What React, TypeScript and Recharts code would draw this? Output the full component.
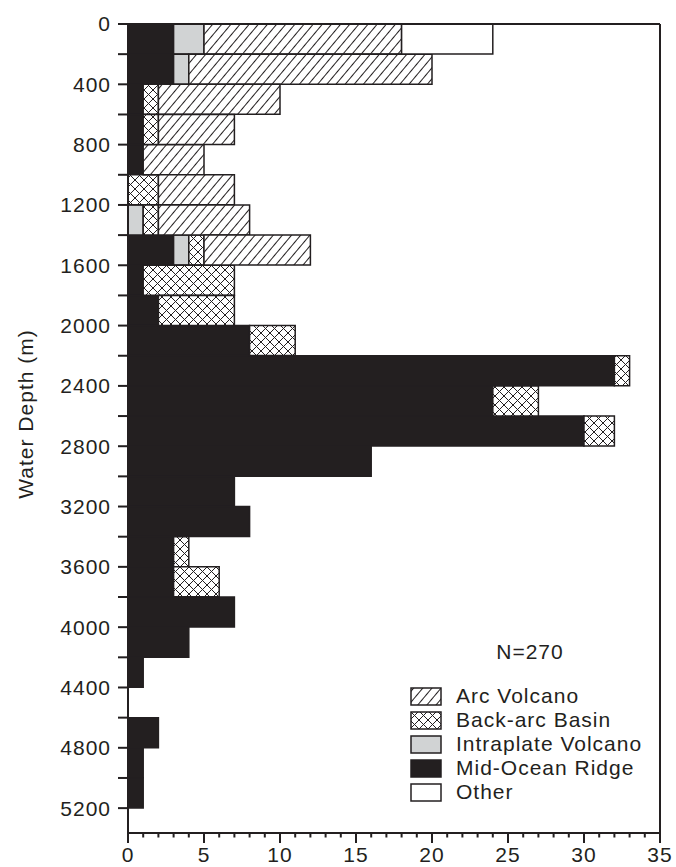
import { Bar, BarChart, Legend, ReferenceLine, XAxis, YAxis, Label } from "recharts";

// bin centres (m), each bin is 200 m deep
const depthBins = [
  100, 300, 500, 700, 900, 1100, 1300, 1500, 1700, 1900, 2100, 2300, 2500,
  2700, 2900, 3100, 3300, 3500, 3700, 3900, 4100, 4300, 4500, 4700, 4900, 5100,
];
const midOceanRidge = [3, 3, 1, 1, 1, 0, 0, 3, 1, 2, 8, 32, 24, 30, 16, 7, 8, 3, 3, 7, 4, 1, 0, 2, 1, 1];
const intraplate = [2, 1, 0, 0, 0, 0, 1, 1, 0, 0, 0, 0, 0, 0, 0, 0, 0, 0, 0, 0, 0, 0, 0, 0, 0, 0];
const backArc = [0, 0, 1, 1, 0, 2, 1, 1, 6, 5, 3, 1, 3, 2, 0, 0, 0, 1, 3, 0, 0, 0, 0, 0, 0, 0];
const arcVolcano = [13, 16, 8, 5, 4, 5, 6, 7, 0, 0, 0, 0, 0, 0, 0, 0, 0, 0, 0, 0, 0, 0, 0, 0, 0, 0];
const other = [6, 0, 0, 0, 0, 0, 0, 0, 0, 0, 0, 0, 0, 0, 0, 0, 0, 0, 0, 0, 0, 0, 0, 0, 0, 0];

const depthTicks = [
  0, 200, 400, 600, 800, 1000, 1200, 1400, 1600, 1800, 2000, 2200, 2400, 2600,
  2800, 3000, 3200, 3400, 3600, 3800, 4000, 4200, 4400, 4600, 4800, 5000, 5200,
];
const countTicks = [
  0, 1, 2, 3, 4, 5, 6, 7, 8, 9, 10, 11, 12, 13, 14, 15, 16, 17, 18, 19, 20, 21,
  22, 23, 24, 25, 26, 27, 28, 29, 30, 31, 32, 33, 34, 35,
];
const legendOrder = ["arc", "backArc", "intraplate", "mor", "other"];
const totalCount = "N=270";

const data = depthBins.map((mid, i) => ({
  mid,
  mor: midOceanRidge[i],
  intraplate: intraplate[i],
  backArc: backArc[i],
  arc: arcVolcano[i],
  other: other[i],
}));

const INK = "#231f20";
const FONT = "'Liberation Sans', Arial, sans-serif";

function Patterns({ prefix }: { prefix: string }) {
  return (
    <defs>
      <pattern
        id={`${prefix}arc`}
        patternUnits="userSpaceOnUse"
        width="7"
        height="7"
        patternTransform="rotate(40)"
      >
        <rect width="7" height="7" fill="#fff" />
        <line x1="3.5" y1="0" x2="3.5" y2="7" stroke={INK} strokeWidth="1" />
      </pattern>
      <pattern id={`${prefix}back`} patternUnits="userSpaceOnUse" width="9" height="9">
        <rect width="9" height="9" fill="#fff" />
        <path d="M0,0 L9,9 M9,0 L0,9" stroke={INK} strokeWidth="1" />
      </pattern>
    </defs>
  );
}

const fills: Record<string, string> = {
  mor: INK,
  intraplate: "#d1d3d4",
  backArc: "url(#back)",
  arc: "url(#arc)",
  other: "#ffffff",
};

function CountTick(props: any) {
  const { x, y, payload } = props;
  const major = payload.value % 5 === 0;
  return (
    <g>
      <line x1={x} x2={x} y1={y - 14} y2={y - 14 + (major ? 10 : 4.5)} stroke={INK} strokeWidth={2} />
      {major && (
        <text
          x={x}
          y={y}
          dy="0.71em"
          textAnchor="middle"
          fill={INK}
          fontSize={21}
          fontFamily={FONT}
          style={{ letterSpacing: 1 }}
        >
          {payload.value}
        </text>
      )}
    </g>
  );
}

function LegendBox(props: any) {
  const items = [...(props.payload || [])].sort(
    (a: any, b: any) => legendOrder.indexOf(a.dataKey) - legendOrder.indexOf(b.dataKey)
  );
  return (
    <div style={{ fontFamily: FONT, fontSize: 21, color: INK, letterSpacing: 1, width: 240 }}>
      <div style={{ textAlign: "center", lineHeight: "24px", marginBottom: 20 }}>{totalCount}</div>
      {items.map((it: any) => (
        <div key={it.dataKey} style={{ display: "flex", alignItems: "center", height: 24 }}>
          <svg width={32} height={19} style={{ marginRight: 14, flexShrink: 0 }}>
            <Patterns prefix="lg-" />
            <rect
              x={1}
              y={1}
              width={30}
              height={17}
              fill={fills[it.dataKey].replace("url(#", "url(#lg-")}
              stroke={INK}
              strokeWidth={1.5}
            />
          </svg>
          <span style={{ whiteSpace: "nowrap" }}>{it.value}</span>
        </div>
      ))}
    </div>
  );
}

export default function App() {
  return (
    <div style={{ position: "absolute", left: 0, top: 0, background: "#fff" }}>
      <BarChart
        width={676}
        height={867}
        data={data}
        layout="vertical"
        barCategoryGap={0}
        barGap={0}
        margin={{ top: 24, right: 16, bottom: 0, left: 0 }}
      >
        <Patterns prefix="" />
        <XAxis
          type="number"
          domain={[0, 35]}
          ticks={countTicks}
          interval={0}
          allowDataOverflow
          height={34}
          tickSize={10}
          tickMargin={4}
          tickLine={false}
          tick={<CountTick />}
          axisLine={{ stroke: INK, strokeWidth: 2 }}
        />
        <YAxis
          type="number"
          dataKey="mid"
          domain={[0, 5365]}
          allowDataOverflow
          ticks={depthTicks}
          interval={0}
          width={128}
          tickSize={10}
          tickMargin={7}
          tickFormatter={(v: number) => (v % 400 === 0 ? String(v) : "")}
          tick={{ fill: INK, fontSize: 21, fontFamily: FONT, style: { letterSpacing: 1 } }}
          tickLine={{ stroke: INK, strokeWidth: 2 }}
          axisLine={{ stroke: INK, strokeWidth: 2 }}
        >
          <Label
            content={() => (
              <text
                x={33}
                y={414}
                transform="rotate(-90, 33, 414)"
                textAnchor="middle"
                fill={INK}
                fontSize={21}
                fontFamily={FONT}
                style={{ letterSpacing: 1 }}
              >
                Water Depth (m)
              </text>
            )}
          />
        </YAxis>
        <ReferenceLine y={0} stroke={INK} strokeWidth={2} />
        <ReferenceLine x={35} stroke={INK} strokeWidth={2} />
        <Bar dataKey="mor" name="Mid-Ocean Ridge" stackId="a" fill={fills.mor} stroke={INK} strokeWidth={1.5} isAnimationActive={false} />
        <Bar dataKey="intraplate" name="Intraplate Volcano" stackId="a" fill={fills.intraplate} stroke={INK} strokeWidth={1.5} isAnimationActive={false} />
        <Bar dataKey="backArc" name="Back-arc Basin" stackId="a" fill={fills.backArc} stroke={INK} strokeWidth={1.5} isAnimationActive={false} />
        <Bar dataKey="arc" name="Arc Volcano" stackId="a" fill={fills.arc} stroke={INK} strokeWidth={1.5} isAnimationActive={false} />
        <Bar dataKey="other" name="Other" stackId="a" fill={fills.other} stroke={INK} strokeWidth={1.5} isAnimationActive={false} />
        <Legend
          layout="vertical"
          align="center"
          verticalAlign="middle"
          content={<LegendBox />}
          wrapperStyle={{ left: 410, top: 640, width: 240 }}
        />
      </BarChart>
    </div>
  );
}
